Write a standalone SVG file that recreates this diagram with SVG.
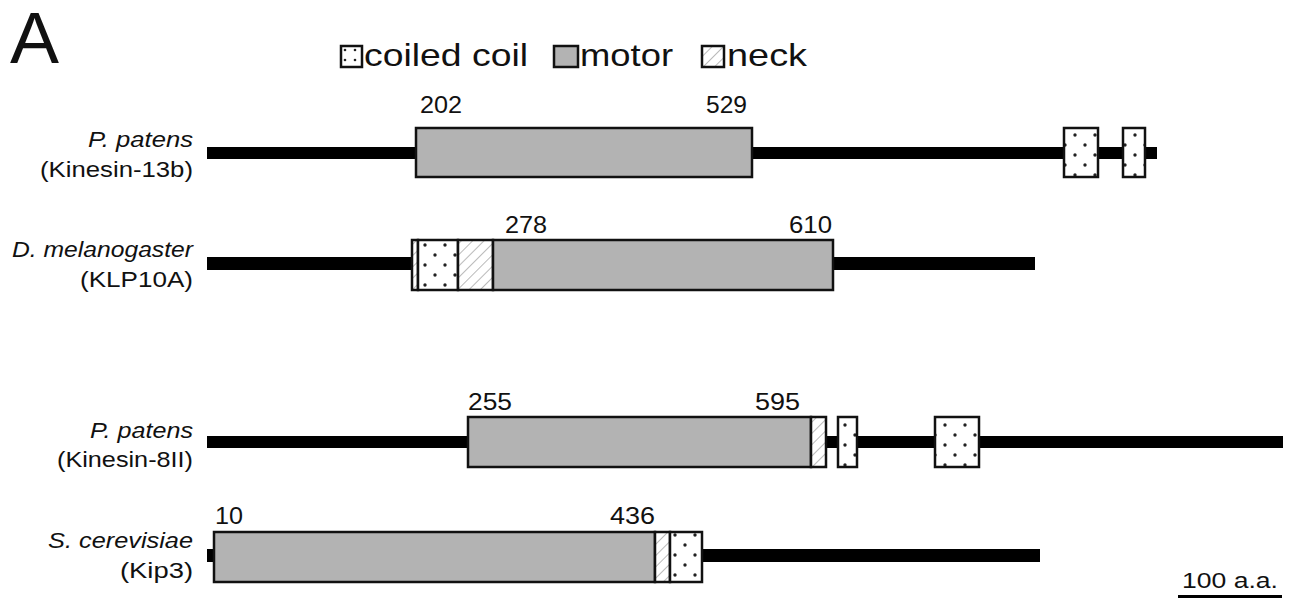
<svg xmlns="http://www.w3.org/2000/svg" width="1291" height="598" viewBox="0 0 1291 598">
<defs>
<pattern id="dots" width="20" height="20" patternUnits="userSpaceOnUse">
<rect width="20" height="20" fill="#fff"/>
<circle cx="5" cy="5" r="1.7" fill="#222"/>
<circle cx="15" cy="15" r="1.7" fill="#222"/>
</pattern>
<pattern id="dotsSmall" width="10" height="10" patternUnits="userSpaceOnUse" x="341" y="46">
<rect width="10" height="10" fill="#fff"/>
<circle cx="4" cy="4" r="1.3" fill="#222"/>
</pattern>
<pattern id="hatch" width="8" height="8" patternUnits="userSpaceOnUse" patternTransform="rotate(45)">
<rect width="8" height="8" fill="#fff"/>
<line x1="0" y1="0" x2="0" y2="8" stroke="#a8a8a8" stroke-width="1.6"/>
</pattern>
<style>
text{font-family:"Liberation Sans",Arial,sans-serif;fill:#111;}
.lab{font-size:22px;}
.it{font-style:italic;}
.num{font-size:23px;}
.leg{font-size:32px;}
.bar{fill:#000;}
.box{stroke:#111;stroke-width:2.5;}
.motor{fill:#b3b3b3;}
.cc{fill:url(#dots);}
.neck{fill:url(#hatch);}
</style>
</defs>
<rect width="1291" height="598" fill="#fff"/>
<text x="10" y="63" font-size="72" textLength="49" lengthAdjust="spacingAndGlyphs">A</text>
<g id="legend">
<rect class="box" fill="url(#dotsSmall)" x="341" y="46" width="21" height="21"/>
<text class="leg" x="364" y="66" textLength="164" lengthAdjust="spacingAndGlyphs">coiled coil</text>
<rect class="box motor" x="554" y="46" width="24" height="21"/>
<text class="leg" x="580" y="66" textLength="93" lengthAdjust="spacingAndGlyphs">motor</text>
<rect class="box neck" x="702" y="46" width="22" height="21"/>
<text class="leg" x="727" y="66" textLength="80" lengthAdjust="spacingAndGlyphs">neck</text>
</g>
<g id="kinesin13b">
<text class="lab it" x="88" y="147" textLength="105" lengthAdjust="spacingAndGlyphs">P. patens</text>
<text class="lab" x="40" y="177" textLength="153" lengthAdjust="spacingAndGlyphs">(Kinesin-13b)</text>
<rect class="bar" x="207" y="147" width="950" height="12"/>
<rect class="box motor" x="416" y="128" width="336" height="49"/>
<rect class="box cc" x="1064" y="128" width="34" height="49"/>
<rect class="box cc" x="1123" y="128" width="22" height="49"/>
<text class="num" x="420" y="113" textLength="42" lengthAdjust="spacingAndGlyphs">202</text>
<text class="num" x="706" y="113" textLength="41" lengthAdjust="spacingAndGlyphs">529</text>
</g>
<g id="klp10a">
<text class="lab it" x="12" y="257" textLength="181" lengthAdjust="spacingAndGlyphs">D. melanogaster</text>
<text class="lab" x="80" y="287" textLength="113" lengthAdjust="spacingAndGlyphs">(KLP10A)</text>
<rect class="bar" x="207" y="257" width="828" height="13"/>
<rect class="box neck" x="412" y="240" width="6" height="50"/>
<rect class="box cc" x="418" y="240" width="40" height="50"/>
<rect class="box neck" x="458" y="240" width="35" height="50"/>
<rect class="box motor" x="493" y="240" width="340" height="50"/>
<text class="num" x="505" y="233" textLength="42" lengthAdjust="spacingAndGlyphs">278</text>
<text class="num" x="789" y="233" textLength="43" lengthAdjust="spacingAndGlyphs">610</text>
</g>
<g id="kinesin8ii">
<text class="lab it" x="90" y="438" textLength="103" lengthAdjust="spacingAndGlyphs">P. patens</text>
<text class="lab" x="57" y="467" textLength="136" lengthAdjust="spacingAndGlyphs">(Kinesin-8II)</text>
<rect class="bar" x="207" y="436" width="1076" height="12"/>
<rect class="box motor" x="468" y="417" width="343" height="50"/>
<rect class="box neck" x="811" y="417" width="15" height="50"/>
<rect class="box cc" x="838" y="417" width="19" height="50"/>
<rect class="box cc" x="935" y="417" width="44" height="50"/>
<text class="num" x="468" y="410" textLength="44" lengthAdjust="spacingAndGlyphs">255</text>
<text class="num" x="755" y="410" textLength="45" lengthAdjust="spacingAndGlyphs">595</text>
</g>
<g id="kip3">
<text class="lab it" x="48" y="548" textLength="145" lengthAdjust="spacingAndGlyphs">S. cerevisiae</text>
<text class="lab" x="120" y="578" textLength="73" lengthAdjust="spacingAndGlyphs">(Kip3)</text>
<rect class="bar" x="207" y="549" width="833" height="13"/>
<rect class="box motor" x="214" y="532" width="441" height="50"/>
<rect class="box neck" x="655" y="532" width="15" height="50"/>
<rect class="box cc" x="670" y="532" width="32" height="50"/>
<text class="num" x="215" y="524" textLength="28" lengthAdjust="spacingAndGlyphs">10</text>
<text class="num" x="610" y="524" textLength="45" lengthAdjust="spacingAndGlyphs">436</text>
</g>
<g id="scale">
<text class="lab" x="1182" y="588" textLength="96" lengthAdjust="spacingAndGlyphs">100 a.a.</text>
<rect class="bar" x="1178" y="595" width="104" height="3"/>
</g>
</svg>
